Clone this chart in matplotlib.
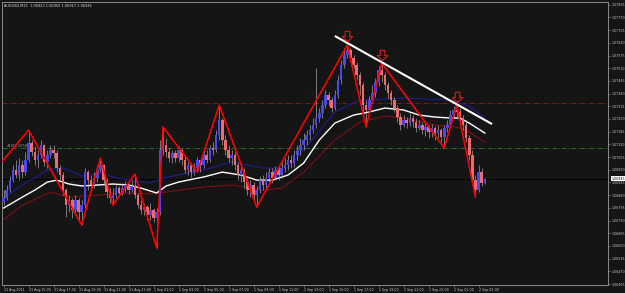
import matplotlib
matplotlib.use("Agg")
import matplotlib.pyplot as plt
import matplotlib.transforms as mtransforms
from matplotlib.path import Path

# ---------------- data (AUDUSD M15) ----------------
title_text = "AUDUSD,M15  1.06923 1.06950 1.06917 1.06945"
first_open = 1.06825
closes = [
    1.06845, 1.06886, 1.06937, 1.06989, 1.06963, 1.07014, 1.06978, 1.07040, 1.07127, 1.07081,
    1.07040, 1.07065, 1.07117, 1.07030, 1.07065, 1.07091, 1.07076, 1.06999, 1.06963, 1.06886,
    1.06809, 1.06835, 1.06784, 1.06835, 1.06774, 1.06809, 1.06978, 1.06937, 1.06912, 1.06948,
    1.06989, 1.07014, 1.06937, 1.06876, 1.06845, 1.06861, 1.06896, 1.06871, 1.06896, 1.06912,
    1.06886, 1.06907, 1.06861, 1.06809, 1.06784, 1.06799, 1.06758, 1.06784, 1.06743, 1.06774,
    1.07091, 1.07117, 1.07081, 1.07050, 1.07076, 1.07050, 1.07091, 1.07040, 1.06989, 1.07014,
    1.06978, 1.06999, 1.07040, 1.07014, 1.07065, 1.07040, 1.07101, 1.07091, 1.07168, 1.07245,
    1.07142, 1.07091, 1.07050, 1.07065, 1.07014, 1.06963, 1.06989, 1.06927, 1.06886, 1.06912,
    1.06861, 1.06886, 1.06937, 1.06912, 1.06948, 1.06978, 1.06948, 1.06989, 1.06963, 1.06999,
    1.07014, 1.07040, 1.07024, 1.07065, 1.07091, 1.07117, 1.07142, 1.07168, 1.07193, 1.07219,
    1.07255, 1.07280, 1.07321, 1.07373, 1.07347, 1.07306, 1.07373, 1.07449, 1.07526, 1.07577,
    1.07603, 1.07562, 1.07526, 1.07475, 1.07424, 1.07321, 1.07296, 1.07347, 1.07383, 1.07439,
    1.07501, 1.07475, 1.07424, 1.07383, 1.07347, 1.07306, 1.07260, 1.07219, 1.07245, 1.07229,
    1.07255, 1.07234, 1.07204, 1.07219, 1.07193, 1.07209, 1.07183, 1.07204, 1.07178, 1.07193,
    1.07158, 1.07204, 1.07219, 1.07270, 1.07296, 1.07286, 1.07255, 1.07219, 1.07152, 1.07065,
    1.06937, 1.06886, 1.06978, 1.06923, 1.06945,
]
highs = [
    1.06886, 1.06912, 1.06958, 1.07014, 1.07040, 1.07050, 1.07040, 1.07081, 1.07193, 1.07142,
    1.07111, 1.07091, 1.07142, 1.07122, 1.07091, 1.07117, 1.07117, 1.07091, 1.07014, 1.06978,
    1.06896, 1.06861, 1.06845, 1.06861, 1.06845, 1.06835, 1.06999, 1.06989, 1.06963, 1.06978,
    1.07014, 1.07050, 1.07019, 1.06948, 1.06896, 1.06896, 1.06912, 1.06907, 1.06922, 1.06932,
    1.06922, 1.06937, 1.06968, 1.06871, 1.06835, 1.06820, 1.06809, 1.06820, 1.06794, 1.06794,
    1.07142, 1.07209, 1.07152, 1.07101, 1.07091, 1.07091, 1.07111, 1.07101, 1.07055, 1.07030,
    1.07024, 1.07024, 1.07055, 1.07040, 1.07091, 1.07091, 1.07117, 1.07132, 1.07193, 1.07321,
    1.07255, 1.07168, 1.07117, 1.07091, 1.07081, 1.07030, 1.07014, 1.06999, 1.06948, 1.06937,
    1.06927, 1.06907, 1.06958, 1.06963, 1.06978, 1.06999, 1.06999, 1.07009, 1.07014, 1.07030,
    1.07050, 1.07065, 1.07065, 1.07091, 1.07117, 1.07152, 1.07178, 1.07193, 1.07219, 1.07255,
    1.07511, 1.07306, 1.07347, 1.07398, 1.07388, 1.07362, 1.07398, 1.07475, 1.07552, 1.07613,
    1.07629, 1.07613, 1.07577, 1.07542, 1.07490, 1.07439, 1.07347, 1.07367, 1.07424, 1.07460,
    1.07521, 1.07536, 1.07490, 1.07439, 1.07398, 1.07362, 1.07321, 1.07280, 1.07270, 1.07260,
    1.07280, 1.07270, 1.07255, 1.07245, 1.07234, 1.07229, 1.07219, 1.07224, 1.07214, 1.07219,
    1.07204, 1.07219, 1.07245, 1.07296, 1.07316, 1.07321, 1.07306, 1.07270, 1.07245, 1.07168,
    1.07091, 1.06963, 1.07014, 1.06999, 1.06950,
]
lows = [
    1.06809, 1.06835, 1.06876, 1.06927, 1.06948, 1.06937, 1.06948, 1.06963, 1.07030, 1.07060,
    1.07014, 1.06999, 1.07050, 1.07009, 1.06999, 1.07050, 1.07050, 1.06978, 1.06937, 1.06861,
    1.06748, 1.06774, 1.06743, 1.06758, 1.06733, 1.06707, 1.06794, 1.06886, 1.06886, 1.06896,
    1.06927, 1.06978, 1.06912, 1.06845, 1.06820, 1.06809, 1.06845, 1.06856, 1.06861, 1.06876,
    1.06866, 1.06876, 1.06845, 1.06794, 1.06763, 1.06758, 1.06733, 1.06733, 1.06722, 1.06589,
    1.06758, 1.07065, 1.07055, 1.07030, 1.07024, 1.07030, 1.07030, 1.07014, 1.06973, 1.06963,
    1.06953, 1.06963, 1.06978, 1.06978, 1.06999, 1.07024, 1.07030, 1.07065, 1.07081, 1.07142,
    1.07117, 1.07065, 1.07030, 1.07014, 1.06989, 1.06937, 1.06927, 1.06896, 1.06861, 1.06850,
    1.06835, 1.06799, 1.06871, 1.06886, 1.06896, 1.06927, 1.06922, 1.06937, 1.06937, 1.06948,
    1.06978, 1.06989, 1.06999, 1.07004, 1.07040, 1.07065, 1.07091, 1.07117, 1.07142, 1.07178,
    1.07204, 1.07234, 1.07255, 1.07306, 1.07316, 1.07286, 1.07296, 1.07357, 1.07429, 1.07511,
    1.07562, 1.07542, 1.07511, 1.07449, 1.07373, 1.07286, 1.07209, 1.07286, 1.07332, 1.07362,
    1.07419, 1.07439, 1.07398, 1.07357, 1.07321, 1.07286, 1.07234, 1.07193, 1.07209, 1.07204,
    1.07214, 1.07209, 1.07183, 1.07193, 1.07173, 1.07163, 1.07152, 1.07158, 1.07142, 1.07152,
    1.07132, 1.07101, 1.07183, 1.07204, 1.07255, 1.07255, 1.07234, 1.07193, 1.07132, 1.07040,
    1.06912, 1.06850, 1.06876, 1.06907, 1.06917,
]

# moving-average lines (bar index, price)
white_ma_bars = [0, 6, 10, 14, 17, 21, 25, 30, 35, 40, 44, 49, 52, 56, 59, 64, 70, 76, 81, 86,
                 91, 96, 101, 106, 112, 117, 122, 128, 133, 138, 143, 146, 149, 154]
white_ma = [1.06794, 1.06850, 1.06886, 1.06927, 1.06937, 1.06917, 1.06907, 1.06912, 1.06917,
            1.06912, 1.06896, 1.06871, 1.06907, 1.06927, 1.06937, 1.06953, 1.06978, 1.06963,
            1.06937, 1.06937, 1.06963, 1.07024, 1.07142, 1.07229, 1.07270, 1.07286, 1.07306,
            1.07296, 1.07270, 1.07260, 1.07255, 1.07255, 1.07229, 1.07178]
red_ma_bars = [0, 6, 15, 21, 31, 37, 47, 52, 64, 73, 83, 89, 96, 106, 114, 122, 128, 138, 145,
               149, 154]
red_ma = [1.06733, 1.06809, 1.06876, 1.06850, 1.06861, 1.06871, 1.06866, 1.06876, 1.06902,
          1.06912, 1.06886, 1.06896, 1.06978, 1.07142, 1.07234, 1.07265, 1.07255, 1.07219,
          1.07209, 1.07183, 1.07132]
blue_ma_bars = [0, 6, 14, 19, 25, 31, 36, 47, 51, 64, 73, 83, 91, 96, 106, 114, 128, 143, 149,
                154]
blue_ma = [1.06845, 1.06912, 1.06989, 1.06999, 1.06958, 1.06973, 1.06948, 1.06922, 1.06948,
           1.06989, 1.07030, 1.06999, 1.06999, 1.07091, 1.07286, 1.07347, 1.07357, 1.07347,
           1.07316, 1.07255]

# ZigZag vertices
zigzag_bars = [-6, 8, 25, 31, 35, 42, 49, 51, 62, 69, 81, 110, 116, 121, 141, 145, 151]
zigzag_prices = [1.06927, 1.07193, 1.06707, 1.07050, 1.06809, 1.06968, 1.06589, 1.07209,
                 1.06978, 1.07321, 1.06799, 1.07629, 1.07209, 1.07536, 1.07101, 1.07321, 1.06850]

# fractal arrows (up fractals)
fractal_bars = [110, 121, 145]

# white trend line
trend_bars = [106, 156.3]
trend_prices = [1.07675, 1.07224]

# horizontal levels
red_level = 1.07332
green_level = 1.07100
green_label = "#1051.1073b"
bid_price = 1.06945

x_tick_bars = [0, 8, 16, 24, 32, 40, 48, 56, 64, 72, 80, 88, 96, 104, 112, 120, 128, 136, 144, 152]
x_tick_labels = ["31 Aug 2011", "31 Aug 15:00", "31 Aug 17:00", "31 Aug 19:00", "31 Aug 21:00",
                 "31 Aug 23:00", "1 Sep 01:00", "1 Sep 03:00", "1 Sep 05:00", "1 Sep 07:00",
                 "1 Sep 09:00", "1 Sep 11:00", "1 Sep 13:00", "1 Sep 15:00", "1 Sep 17:00",
                 "1 Sep 19:00", "1 Sep 21:00", "1 Sep 23:00", "2 Sep 01:00", "2 Sep 03:00"]
y_ticks = [1.06405, 1.06470, 1.06535, 1.06600, 1.06665, 1.06730, 1.06795, 1.06860, 1.06925,
           1.06990, 1.07055, 1.07120, 1.07185, 1.07250, 1.07315, 1.07380, 1.07445, 1.07510,
           1.07575, 1.07640, 1.07705, 1.07770, 1.07835]

# ---------------- styling ----------------
BG = "#151515"
AX_COL = "#8a8a8a"
TXT = "#c8c8c8"
BULL = "#4848f0"
BEAR = "#f06c6c"
WICK = "#b0b0b0"
FS = 2.3

opens = [first_open] + closes[:-1]

fig = plt.figure(figsize=(6.25, 2.93), dpi=100, facecolor=BG)
ax = fig.add_axes([2 / 625, 8 / 293, 606 / 625, 283 / 293], facecolor=BG)

ax.set_xlim(-0.5, 193.4)
ax.set_ylim(1.06400, 1.07849)

# horizontal levels
ax.axhline(red_level, color="#8b1c1c", lw=0.6, dashes=(6, 2, 1, 2), zorder=1)
ax.axhline(green_level, color="#2f7d2f", lw=0.6, dashes=(6, 2, 1, 2), zorder=1)
ax.axhline(bid_price, color="#000000", lw=0.7, zorder=1)
ax.text(1, green_level, green_label, color="#9a9a9a", fontsize=FS, va="bottom", ha="left")

# moving averages
ax.plot(blue_ma_bars, blue_ma, color="#1e1e90", lw=0.8, zorder=2)
ax.plot(red_ma_bars, red_ma, color="#8b0f0f", lw=0.7, zorder=2)
ax.plot(white_ma_bars, white_ma, color="#ffffff", lw=1.0, zorder=2)

# candles
idx = list(range(len(closes)))
ax.vlines(idx, lows, highs, color=WICK, lw=0.45, zorder=3)
for i in idx:
    o, c = opens[i], closes[i]
    bull = c >= o
    h = abs(c - o)
    if h < 0.00003:
        h = 0.00003
    ax.bar(i, h, bottom=min(o, c), width=0.82, color=BULL if bull else BEAR,
           edgecolor="none", lw=0, zorder=4)

# zigzag
ax.plot(zigzag_bars, zigzag_prices, color="#ff0000", lw=1.15, zorder=5)

# trend line
ax.plot(trend_bars, trend_prices, color="#ffffff", lw=1.5, zorder=6, solid_capstyle="butt")

# fractal arrows: hollow down arrows above the highs
arrow_path = Path([(-0.22, 0.5), (0.22, 0.5), (0.22, 0.0), (0.5, 0.0), (0.0, -0.5),
                   (-0.5, 0.0), (-0.22, 0.0), (-0.22, 0.5)], closed=True)
arrow_tr = mtransforms.offset_copy(ax.transData, fig=fig, x=0, y=8.5, units="dots")
ax.plot(fractal_bars, [highs[b] for b in fractal_bars], linestyle="none", marker=arrow_path,
        markersize=7.5, markerfacecolor="none", markeredgecolor="#e01818",
        markeredgewidth=0.8, transform=arrow_tr, zorder=7, clip_on=False)

# title
ax.text(0.004, 0.993, title_text, transform=ax.transAxes, color="#e0e0e0", fontsize=FS + 0.2,
        va="top", ha="left")

# axes styling
for s in ax.spines.values():
    s.set_color(AX_COL)
    s.set_linewidth(0.7)
ax.yaxis.tick_right()
ax.set_yticks(y_ticks)
ax.set_yticklabels([f"{v:.5f}" for v in y_ticks])
ax.set_xticks(x_tick_bars)
ax.set_xticklabels(x_tick_labels, ha="left")
ax.tick_params(axis="y", colors=AX_COL, labelcolor=TXT, labelsize=FS, length=1.5, width=0.5, pad=1)
ax.tick_params(axis="x", colors=AX_COL, labelcolor=TXT, labelsize=FS, length=1.5, width=0.5, pad=0.8)

# bid price box on the price scale
trans = mtransforms.blended_transform_factory(ax.transAxes, ax.transData)
ax.text(1.006, bid_price, f"{bid_price:.5f}", transform=trans, color="#000000", fontsize=FS,
        va="center", ha="left", bbox=dict(boxstyle="square,pad=0.25", fc="#ffffff", ec="none"),
        zorder=10, clip_on=False)

fig.savefig("out.png", dpi=100, facecolor=BG)
